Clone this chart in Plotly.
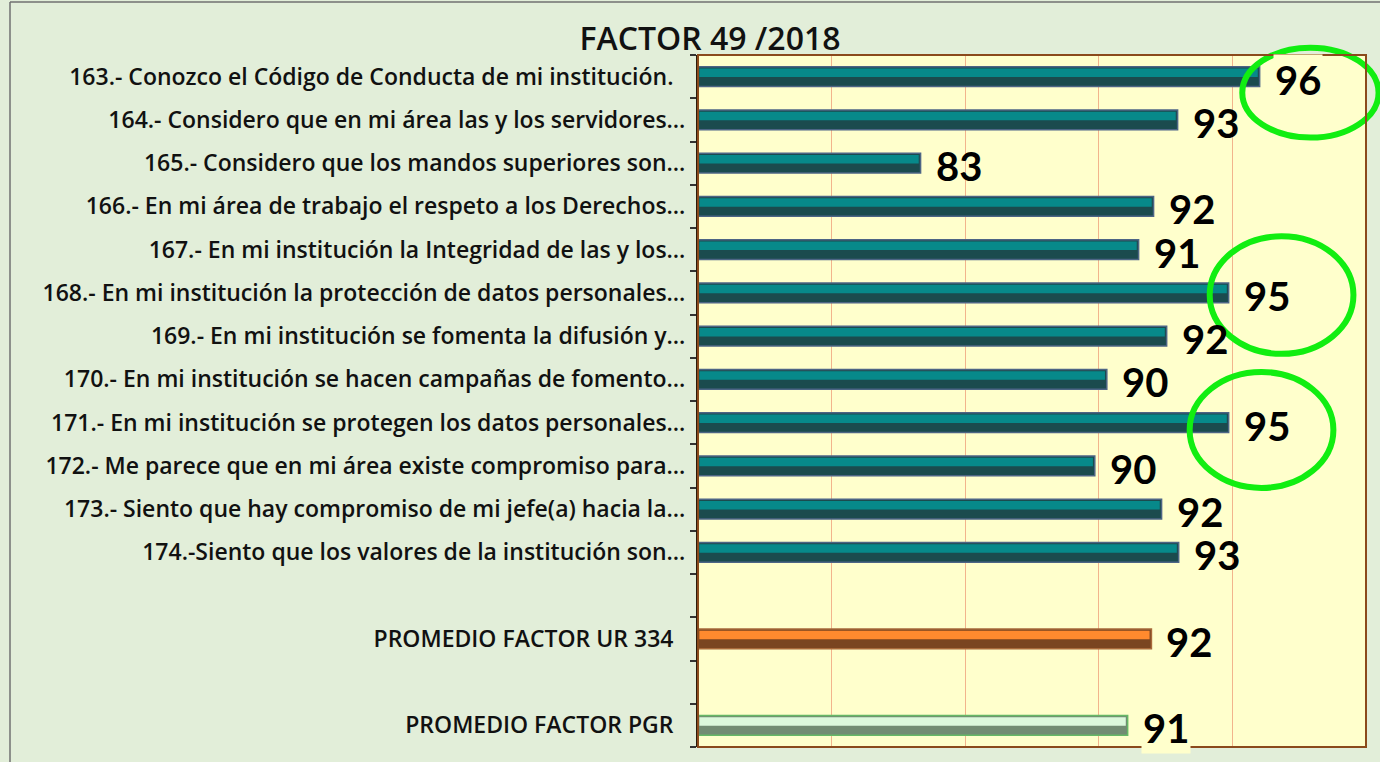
import plotly.graph_objects as go

# ---------------- data ----------------
labels = [
    "163.- Conozco el Código de Conducta de mi institución.\u00a0\u00a0",
    "164.- Considero que en mi área las y los servidores…",
    "165.- Considero que los mandos superiores son…",
    "166.- En mi área de trabajo el respeto a los Derechos…",
    "167.- En mi institución la Integridad de las y los…",
    "168.- En mi institución la protección de datos personales…",
    "169.- En mi institución se fomenta la difusión y…",
    "170.- En mi institución se hacen campañas de fomento…",
    "171.- En mi institución se protegen los datos personales…",
    "172.- Me parece que en mi área existe compromiso para…",
    "173.- Siento que hay compromiso de mi jefe(a) hacia la…",
    "174.-Siento que los valores de la institución son…",
    "PROMEDIO FACTOR UR 334\u00a0\u00a0",
    "PROMEDIO FACTOR PGR\u00a0\u00a0",
]
values = [96.02, 92.95, 83.33, 92.05, 91.49, 94.86, 92.54, 90.30, 94.86, 89.85, 92.35, 92.99, 91.97, 91.08]
shown = [96, 93, 83, 92, 91, 95, 92, 90, 95, 90, 92, 93, 92, 91]
groups = ["item"] * 12 + ["ur", "pgr"]
slots = list(range(12)) + [13, 15]
n_slots = 16
highlighted = [0, 5, 8]

# ---------------- styles ----------------
X0, X1 = 75, 100
style = {
    "item": dict(dark="#1b4b4e", light="#07898a", line="#4d6585"),
    "ur": dict(dark="#7a4521", light="#ff8a2e", line="#a8693a"),
    "pgr": dict(dark="#728c73", light="#dcf8dc", line="#66b866"),
}
label_font = dict(family="Open Sans", size=23, color="#111111", weight=600)

fig = go.Figure()
fig.add_trace(go.Bar(
    y=slots, x=[v - X0 for v in values], orientation="h", base=X0,
    width=0.46, offset=-0.23,
    marker=dict(color=[style[g]["dark"] for g in groups],
                line=dict(color=[style[g]["line"] for g in groups], width=1.5)),
    hoverinfo="skip", showlegend=False,
))
fig.add_trace(go.Bar(
    y=slots, x=[v - X0 - 0.12 for v in values], orientation="h", base=X0 + 0.05,
    width=0.2, offset=-0.19,
    marker=dict(color=[style[g]["light"] for g in groups], line=dict(width=0)),
    hoverinfo="skip", showlegend=False,
))

# value labels
for i, (s, v, t) in enumerate(zip(slots, values, shown)):
    ann = dict(x=v, y=s, xref="x", yref="y", text=str(t), showarrow=False,
               xanchor="left", yanchor="middle", xshift=13, yshift=-3,
               font=dict(family="Lato", size=40, color="#000000", weight="bold"))
    if i in (0, len(values) - 1):
        ann["bgcolor"] = "#ffffcc"
    fig.add_annotation(**ann)

# green highlight ellipses (relative to bar value and slot)
ell_params = {0: (1.9, 0.37, 2.55, 1.04), 5: (1.98, 0.05, 2.69, 1.36), 8: (1.23, 0.17, 2.69, 1.34)}
for i in highlighted:
    dx, dy, rx, ry = ell_params[i]
    cx = values[i] + dx
    cy = slots[i] + dy
    fig.add_shape(type="circle", xref="paper", yref="paper",
                  x0=(cx - rx - X0) / (X1 - X0), x1=(cx + rx - X0) / (X1 - X0),
                  y0=1 - (cy + 0.5 + ry) / n_slots, y1=1 - (cy + 0.5 - ry) / n_slots,
                  line=dict(color="#11ee11", width=6), layer="above")

# plot border (brown)
fig.add_shape(type="rect", xref="paper", yref="paper", x0=0, x1=1, y0=0, y1=1,
              line=dict(color="#8b4a1c", width=2), layer="above")
# outer picture frame (top and left edges)
W, H, ML, MR, MT, MB = 1380, 762, 698, 14, 55, 15
pw, ph = W - ML - MR, H - MT - MB
fig.add_shape(type="line", xref="paper", yref="paper",
              x0=(10 - ML) / pw, x1=(W - ML) / pw, y0=(H - MB - 2) / ph, y1=(H - MB - 2) / ph,
              line=dict(color="#707070", width=1.5))
fig.add_shape(type="line", xref="paper", yref="paper",
              x0=(10 - ML) / pw, x1=(10 - ML) / pw, y0=(H - MB - 2) / ph, y1=-1,
              line=dict(color="#707070", width=1.5))

fig.update_layout(
    width=W, height=H,
    margin=dict(l=ML, r=MR, t=MT, b=MB, autoexpand=False),
    paper_bgcolor="#e2eed9", plot_bgcolor="#ffffcc",
    barmode="overlay",
    title=dict(text="FACTOR 49 /2018", x=710 / W, xanchor="center", xref="container",
               y=1 - 39 / H, yanchor="middle", yref="container",
               font=dict(family="Open Sans", size=32, color="#111111", weight=600)),
    xaxis=dict(range=[X0, X1], dtick=5, showticklabels=False, ticks="",
               showgrid=True, gridcolor="#f2b48c", gridwidth=1, zeroline=False,
               showline=False),
    yaxis=dict(range=[n_slots - 0.5, -0.5], tickvals=slots, ticktext=labels,
               ticks="", tickfont=label_font, ticklabelstandoff=6,
               showgrid=False, zeroline=False,
               showline=True, linecolor="#2b1a0a", linewidth=2,
               minor=dict(tickvals=[k - 0.5 for k in range(n_slots + 1)], ticks="outside",
                          ticklen=6, tickcolor="#333333", tickwidth=1.5, showgrid=False)),
)

fig.write_html("out.html", config={"displayModeBar": False},
               post_script="document.body.style.margin='0';document.body.style.overflow='hidden';")
